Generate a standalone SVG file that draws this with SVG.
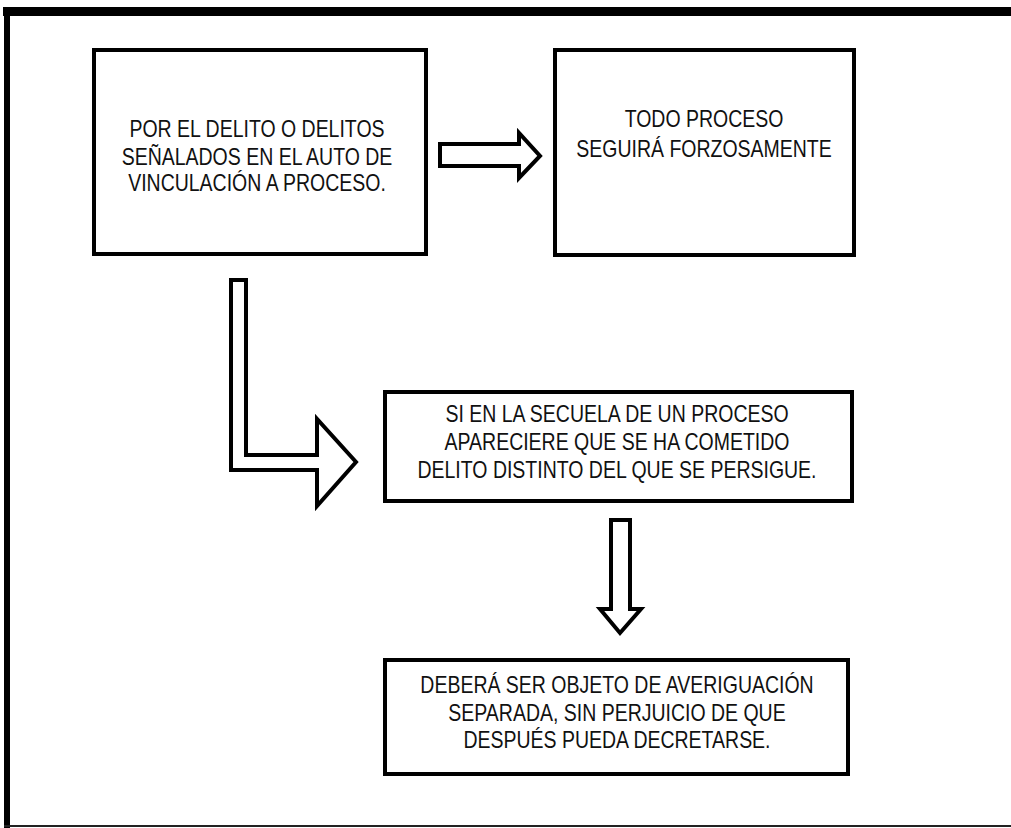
<svg xmlns="http://www.w3.org/2000/svg" width="1011" height="828" viewBox="0 0 1011 828">
<style>
.box{fill:#fff;stroke:#000;stroke-width:4}
.arr{fill:#fff;stroke:#000;stroke-width:4;stroke-linejoin:miter}
.t{font-family:"Liberation Sans",Arial,sans-serif;font-size:19.5px;fill:#111;text-anchor:middle}
</style>
<rect width="1011" height="828" fill="#fff"/>
<g id="frame">
<rect x="3" y="7" width="1008" height="9" fill="#000"/>
<rect x="4" y="7" width="6" height="821" fill="#000"/>
<rect x="4" y="825" width="1007" height="2" fill="#222"/>
</g>
<g id="connectors">
<polygon class="arr" points="440,144 519,144 519,133 540,156 519,178 519,166 440,166"/>
<polygon class="arr" points="231,280 246,280 246,455 317,455 317,419 356,462 317,506 317,470 231,470"/>
<polygon class="arr" points="611,520 630,520 630,609 641,609 620,633 600,609 611,609"/>
</g>
<g id="n1">
<rect class="box" x="94" y="50" width="332" height="204"/>
<text class="t" transform="matrix(1,0,0,1.2,257,137)">POR EL DELITO O DELITOS</text>
<text class="t" transform="matrix(1,0,0,1.2,257,165)">SEÑALADOS EN EL AUTO DE</text>
<text class="t" transform="matrix(1,0,0,1.2,257,191)">VINCULACIÓN A PROCESO.</text>
</g>
<g id="n2">
<rect class="box" x="555" y="50" width="299" height="205"/>
<text class="t" transform="matrix(1,0,0,1.2,704,127)">TODO PROCESO</text>
<text class="t" transform="matrix(1,0,0,1.2,704,157)">SEGUIRÁ FORZOSAMENTE</text>
</g>
<g id="n3">
<rect class="box" x="385" y="392" width="467" height="109"/>
<text class="t" transform="matrix(1,0,0,1.2,617,422)">SI EN LA SECUELA DE UN PROCESO</text>
<text class="t" transform="matrix(1,0,0,1.2,617,450)">APARECIERE QUE SE HA COMETIDO</text>
<text class="t" transform="matrix(1,0,0,1.2,617,478)">DELITO DISTINTO DEL QUE SE PERSIGUE.</text>
</g>
<g id="n4">
<rect class="box" x="385" y="660" width="463" height="114"/>
<text class="t" transform="matrix(1,0,0,1.2,617,693)">DEBERÁ SER OBJETO DE AVERIGUACIÓN</text>
<text class="t" transform="matrix(1,0,0,1.2,617,721)">SEPARADA, SIN PERJUICIO DE QUE</text>
<text class="t" transform="matrix(1,0,0,1.2,617,748)">DESPUÉS PUEDA DECRETARSE.</text>
</g>
</svg>
